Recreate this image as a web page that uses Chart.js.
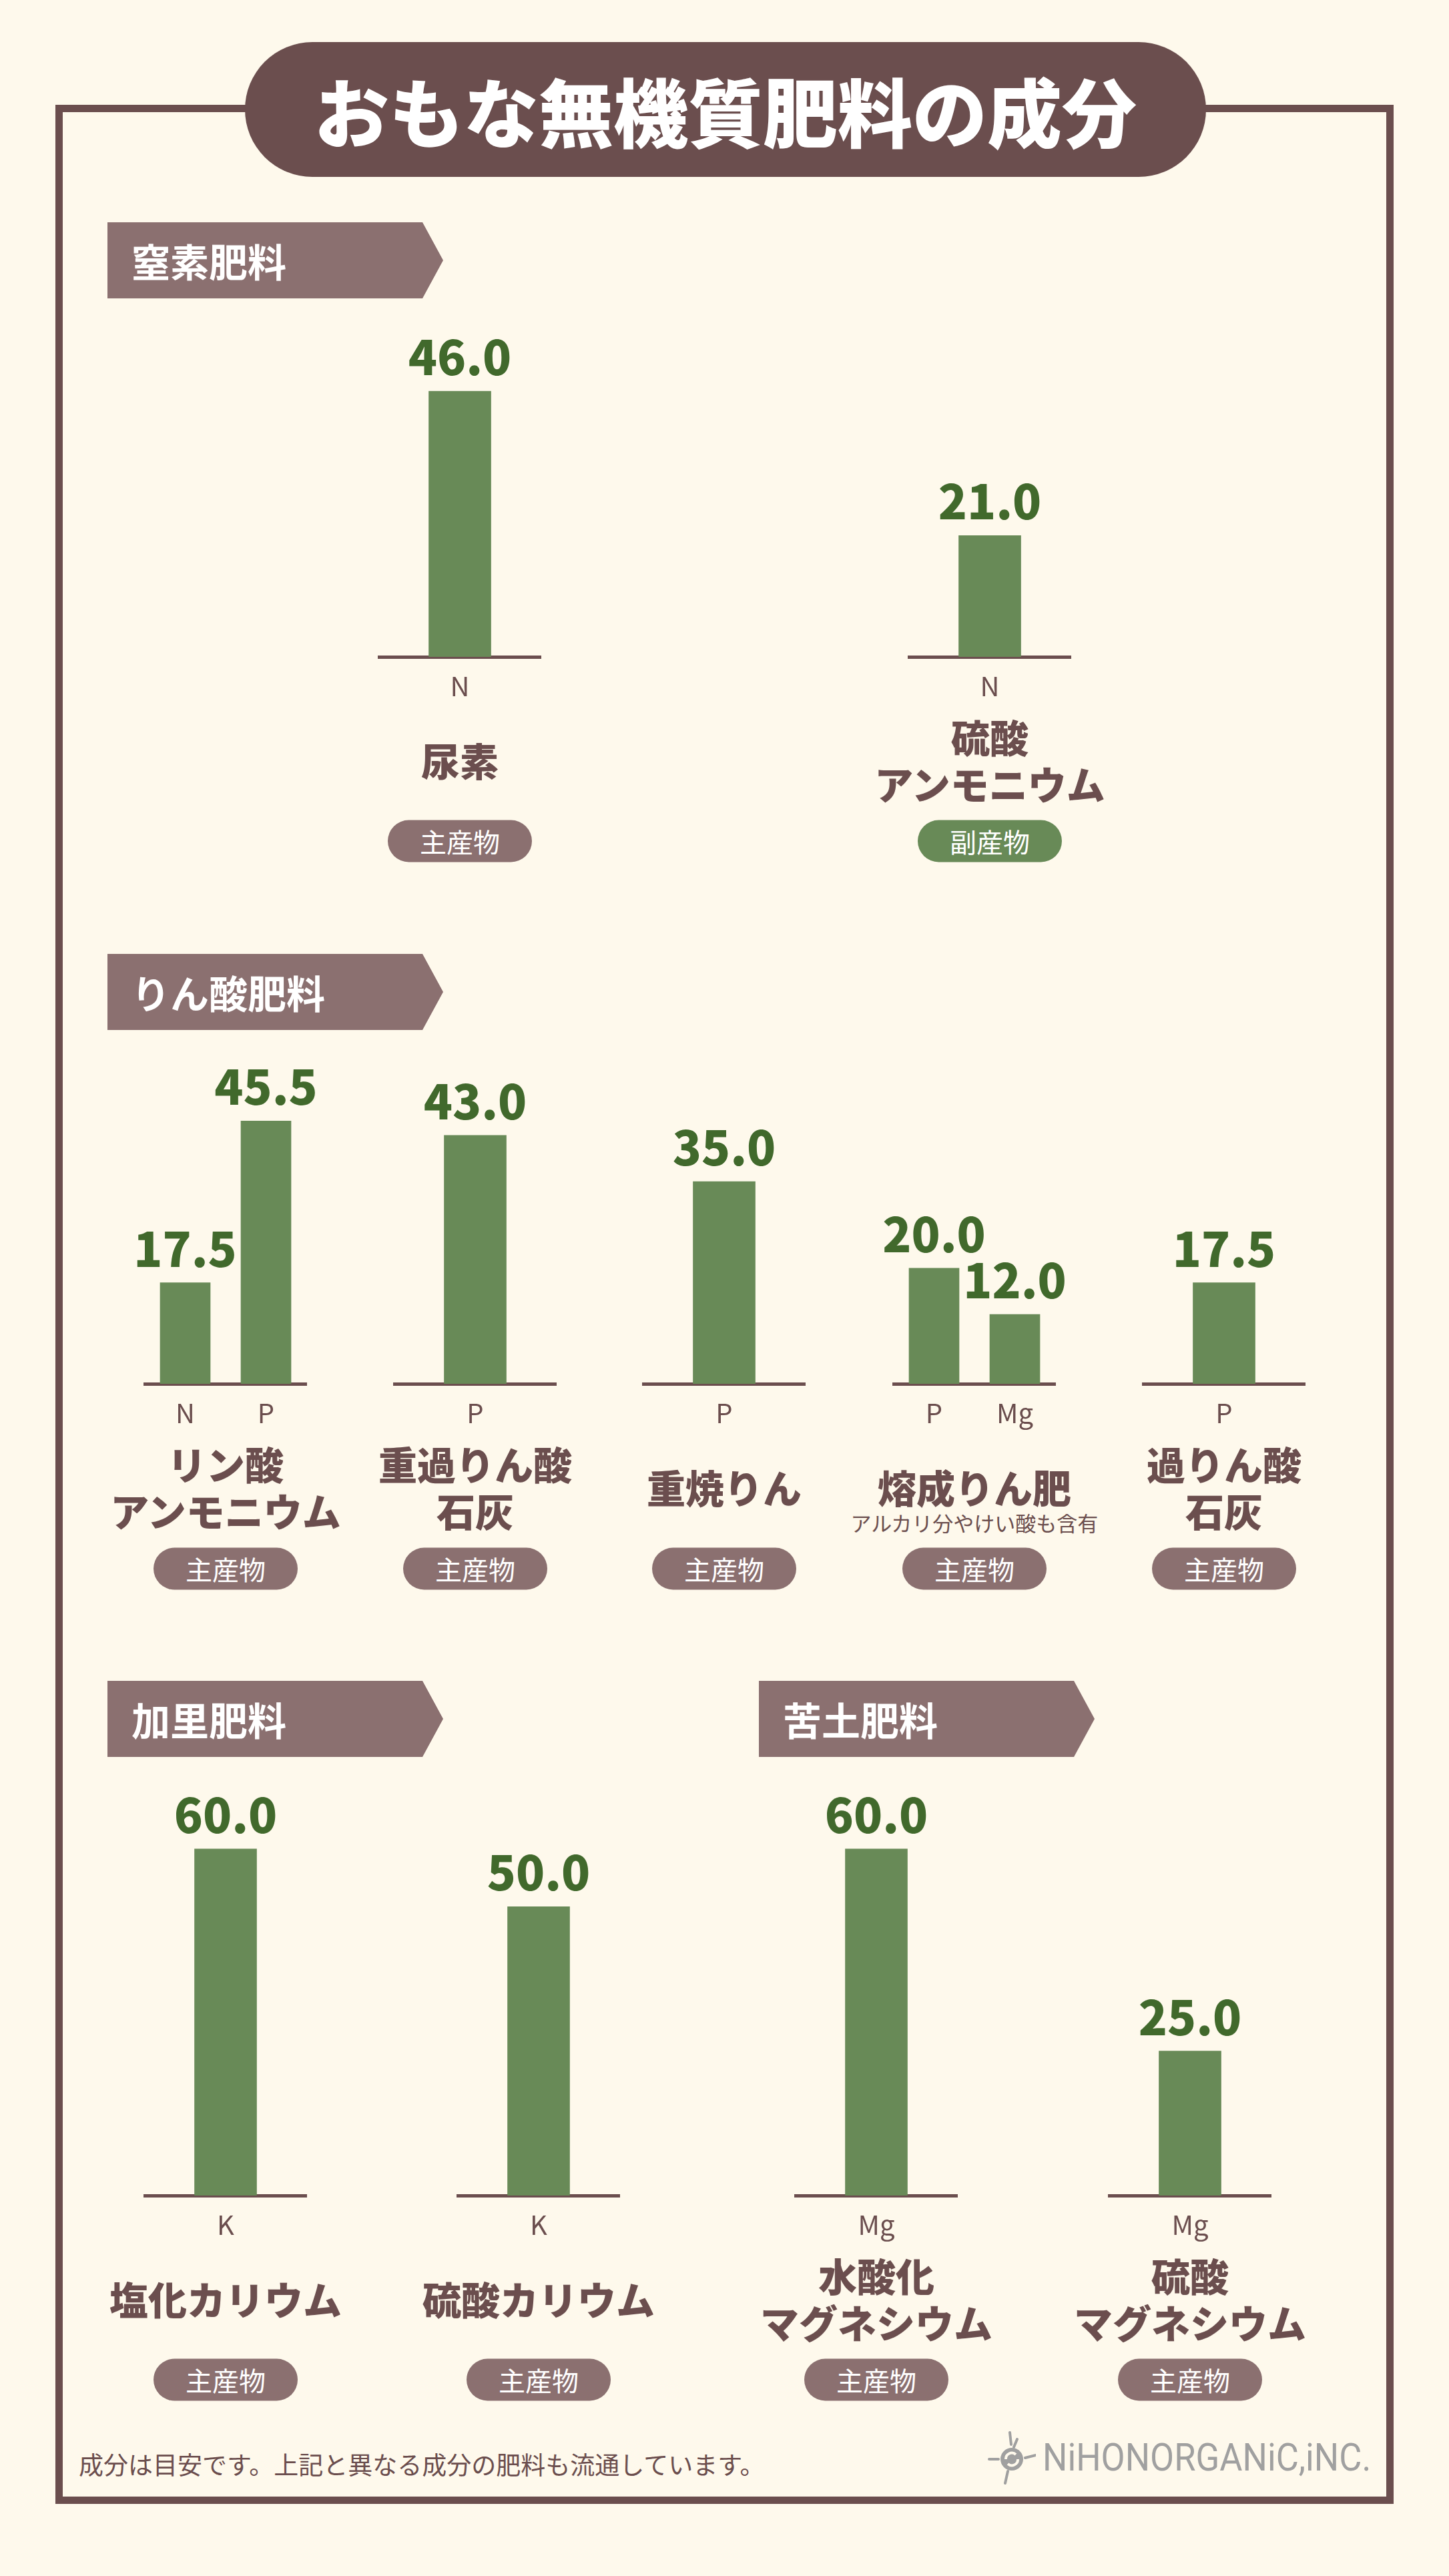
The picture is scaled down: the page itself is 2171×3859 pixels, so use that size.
<!DOCTYPE html>
<html lang="ja">
<head>
<meta charset="utf-8">
<script src="https://cdn.jsdelivr.net/npm/chart.js@4.4.0/dist/chart.umd.min.js"></script>
<style>
  body { margin: 0; background: #fef9ec; font-family: 'Noto Sans CJK JP', sans-serif; }
  #page { position: relative; width: 2171px; height: 3859px; overflow: hidden; background: #fef9ec; }
  .frame { position: absolute; left: 83px; top: 157px; width: 2005px; height: 3594px;
           border: 11px solid #6b4e4e; box-sizing: border-box; }
  .title { position: absolute; left: 367px; top: 63px; width: 1440px; height: 202px; border-radius: 101px;
           background: #6b4e4e; color: #fff; font-weight: 900; font-size: 112px; line-height: 202px;
           text-align: center; }
  .head { position: absolute; width: 503px; height: 114px; background: #8b7070; color: #fff;
          font-weight: 700; font-size: 58px; line-height: 114px; padding-left: 36px; box-sizing: border-box;
          clip-path: polygon(0 0, 472px 0, 100% 50%, 472px 100%, 0 100%); }
  .name { position: absolute; width: 700px; transform: translate(-50%, -50%); text-align: center;
          color: #6b4e4e; font-weight: 900; font-size: 58px; line-height: 70px; }
  .note { position: absolute; width: 600px; transform: translate(-50%, -50%); text-align: center;
          color: #6b4e4e; font-size: 31px; line-height: 40px; }
  .pill { position: absolute; width: 216px; height: 63px; border-radius: 32px; transform: translate(-50%, -50%);
          color: #fff; font-size: 40px; line-height: 63px; text-align: center; }
  canvas { position: absolute; }
  .foot { position: absolute; color: #6b4e4e; font-size: 37px; line-height: 46px; }
  .logo { position: absolute; color: #a0a0a0; font-family: Roboto, sans-serif;
          font-size: 58px; line-height: 66px; transform-origin: 0 0; white-space: nowrap; }
</style>
</head>
<body>
<div id="page">
  <div class="frame"></div>
  <div class="title">おもな無機質肥料の成分</div>
</div>
<script>
// 区分（見出し）
const sections = ['窒素肥料', 'りん酸肥料', '加里肥料', '苦土肥料'];

// 肥料ごとのデータ
const fertilizers = ['尿素', '硫酸アンモニウム', 'リン酸アンモニウム', '重過りん酸石灰', '重焼りん',
                     '熔成りん肥', '過りん酸石灰', '塩化カリウム', '硫酸カリウム', '水酸化マグネシウム', '硫酸マグネシウム'];
const nameLines = [['尿素'], ['硫酸', 'アンモニウム'], ['リン酸', 'アンモニウム'], ['重過りん酸', '石灰'], ['重焼りん'],
                   ['熔成りん肥'], ['過りん酸', '石灰'], ['塩化カリウム'], ['硫酸カリウム'], ['水酸化', 'マグネシウム'], ['硫酸', 'マグネシウム']];
const elements = [['N'], ['N'], ['N', 'P'], ['P'], ['P'], ['P', 'Mg'], ['P'], ['K'], ['K'], ['Mg'], ['Mg']];
const values = [[46.0], [21.0], [17.5, 45.5], [43.0], [35.0], [20.0, 12.0], [17.5], [60.0], [50.0], [60.0], [25.0]];
const origins = ['主産物', '副産物', '主産物', '主産物', '主産物', '主産物', '主産物', '主産物', '主産物', '主産物', '主産物'];
const notes = ['', '', '', '', '', 'アルカリ分やけい酸も含有', '', '', '', '', ''];
const footNote = '成分は目安です。上記と異なる成分の肥料も流通しています。';

// レイアウト
const headPos = [[161, 333], [161, 1429], [161, 2518], [1137, 2518]];
const groupCx = [689, 1483, 338, 712, 1085, 1460, 1834, 338, 807, 1313, 1783];
const groupRow = [0, 0, 1, 1, 1, 1, 1, 2, 2, 2, 2];
const rowBase = [984, 2073, 3289];
const rowName = [1138, 2227, 3443];
const rowPill = [1260, 2350, 3565];

const BROWN = '#6b4e4e';
const GREEN = '#688a57';
const AREA_H = 623, AXIS_H = 70, AXIS_W = 242, PAD = 45, Y_MAX = 72;

const page = document.getElementById('page');

function add(cls, text, x, y) {
    const d = document.createElement('div');
    d.className = cls;
    d.textContent = text;
    d.style.left = x + 'px';
    d.style.top = y + 'px';
    page.appendChild(d);
    return d;
}

// 見出し
sections.forEach((s, i) => add('head', s, headPos[i][0], headPos[i][1]));

// 棒の上の数値
const valueLabels = {
    id: 'valueLabels',
    afterDatasetsDraw(chart) {
        const ctx = chart.ctx;
        ctx.save();
        ctx.font = '900 71px "Noto Sans CJK JP"';
        ctx.fillStyle = '#41692c';
        ctx.textAlign = 'center';
        ctx.textBaseline = 'alphabetic';
        chart.getDatasetMeta(0).data.forEach((bar, i) => {
            ctx.fillText(chart.data.datasets[0].data[i].toFixed(1), bar.x, bar.y - 24);
        });
        ctx.restore();
    }
};

fertilizers.forEach((f, i) => {
    const cx = groupCx[i];
    const row = groupRow[i];

    const canvas = document.createElement('canvas');
    canvas.width = AXIS_W + PAD * 2;
    canvas.height = AREA_H + AXIS_H;
    canvas.style.left = (cx - AXIS_W / 2 - PAD) + 'px';
    canvas.style.top = (rowBase[row] - AREA_H) + 'px';
    page.appendChild(canvas);

    new Chart(canvas, {
        type: 'bar',
        data: {
            labels: elements[i],
            datasets: [{
                data: values[i],
                backgroundColor: GREEN,
                barThickness: values[i].length > 1 ? 75 : 93
            }]
        },
        options: {
            responsive: false,
            animation: false,
            devicePixelRatio: 1,
            layout: { padding: { left: PAD, right: PAD, top: 0, bottom: 0 } },
            plugins: { legend: { display: false }, tooltip: { enabled: false } },
            scales: {
                x: {
                    grid: { display: false, drawTicks: false },
                    border: { display: true, color: BROWN, width: 5 },
                    ticks: { color: BROWN, padding: 20, font: { family: 'Noto Sans CJK JP', size: 40 } },
                    afterFit(scale) { scale.height = AXIS_H; }
                },
                y: { display: false, min: 0, max: Y_MAX }
            }
        },
        plugins: [valueLabels]
    });

    add('name', '', cx, rowName[row]).innerHTML = nameLines[i].join('<br>');
    if (notes[i]) add('note', notes[i], cx, rowName[row] + 54);
    const p = add('pill', origins[i], cx, rowPill[row]);
    p.style.background = origins[i] === '副産物' ? GREEN : '#8b7070';
});

// 注記とロゴ
add('foot', footNote, 118, 3668);
const logo = add('logo', 'NiHONORGANiC,iNC.', 1562, 3648);
logo.style.transform = 'scaleX(' + (492 / logo.scrollWidth) + ')';
const icon = document.createElementNS('http://www.w3.org/2000/svg', 'svg');
icon.setAttribute('width', '72');
icon.setAttribute('height', '80');
icon.style.cssText = 'position:absolute;left:1480px;top:3642px';
icon.innerHTML =
    '<circle cx="36" cy="42" r="17" fill="#a0a0a0"/>' +
    '<path d="M27 42a9 9 0 0 1 15-7M45 42a9 9 0 0 1-15 7" stroke="#fef9ec" stroke-width="4" fill="none"/>' +
    '<path d="M33 2l2 18M44 12l-5 12M2 42l14 0M56 40l16-4M26 78l4-18" stroke="#a0a0a0" stroke-width="4" stroke-linecap="round"/>';
page.appendChild(icon);
</script>
</body>
</html>
